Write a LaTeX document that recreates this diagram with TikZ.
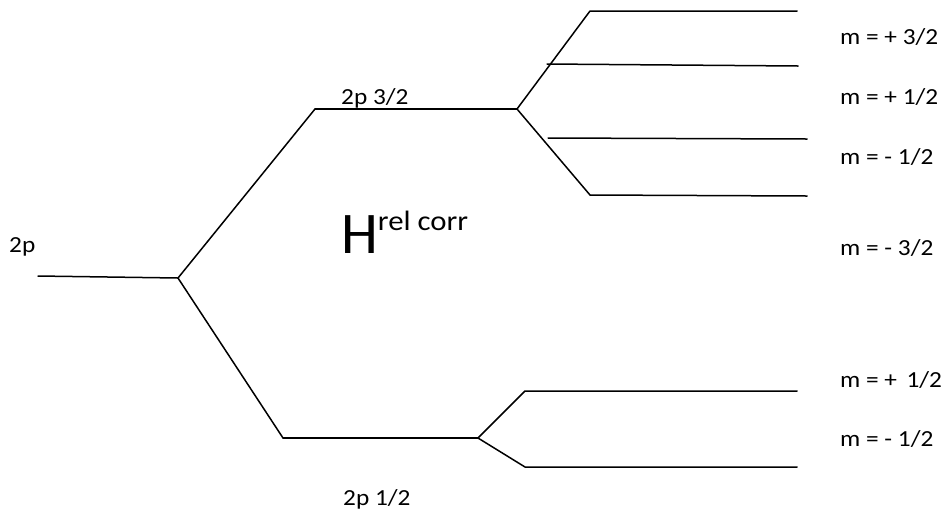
\documentclass[tikz,border=0pt]{standalone}
\usepackage{fontspec}
\setmainfont{Carlito}
\newfontfamily\lblfont[FakeStretch=1.1]{Carlito}
\begin{document}
\begin{tikzpicture}[x=1pt,y=-1pt,
  level/.style={line width=1.5pt,line cap=round},
  branch/.style={line width=1.5pt,line cap=round,line join=round},
  lbl/.style={anchor=base west,inner sep=0pt,font=\lblfont\fontsize{23}{25}\selectfont}]
\useasboundingbox (0,0) rectangle (949,515);

% 2p level and its fine-structure splitting
\coordinate (p0) at (38,276);
\coordinate (p1) at (178,278);
\coordinate (t0) at (315,109);
\coordinate (t1) at (517,109);
\coordinate (h0) at (283,438);
\coordinate (h1) at (478,438);

\draw[level] (p0) -- (p1);
\draw[branch] (h0) -- (p1) -- (t0);
\draw[level] (t0) -- (t1);
\draw[level] (h0) -- (h1);

% 2p 3/2 into four m sublevels
\coordinate (a0) at (590,11);   \coordinate (a1) at (797,11);
\coordinate (b0) at (547,64);   \coordinate (b1) at (798,66);
\coordinate (c0) at (548,138);  \coordinate (c1) at (807,139);
\coordinate (d0) at (590,195);  \coordinate (d1) at (807,196);
\draw[branch] (a1) -- (a0) -- (t1) -- (d0) -- (d1);
\draw[level] (b0) -- (b1);
\draw[level] (c0) -- (c1);

% 2p 1/2 into two m sublevels
\coordinate (e0) at (525,391);  \coordinate (e1) at (797,391);
\coordinate (f0) at (525,467);  \coordinate (f1) at (797,467);
\draw[branch] (e1) -- (e0) -- (h1) -- (f0) -- (f1);

% labels
\node[lbl] (l2p) at (9,252) {2p};
\node[lbl] (l32) at (341,104) {2p 3/2};
\node[lbl] (l12) at (343,505) {2p 1/2};
\node[lbl] (m1) at (840,44) {m = + 3/2};
\node[lbl] (m2) at (840,104) {m = + 1/2};
\node[lbl] (m3) at (840,164) {m = - 1/2};
\node[lbl] (m4) at (840,255) {m = - 3/2};
\node[lbl] (m5) at (840,387) {m = +\ \,1/2};
\node[lbl] (m6) at (840,446) {m = - 1/2};
\node[anchor=base west,inner sep=0pt] (ham) at (341,253)
  {\fontsize{59}{60}\selectfont H\raisebox{23pt}{\lblfont\fontsize{28}{30}\selectfont rel corr}};
\end{tikzpicture}
\end{document}
